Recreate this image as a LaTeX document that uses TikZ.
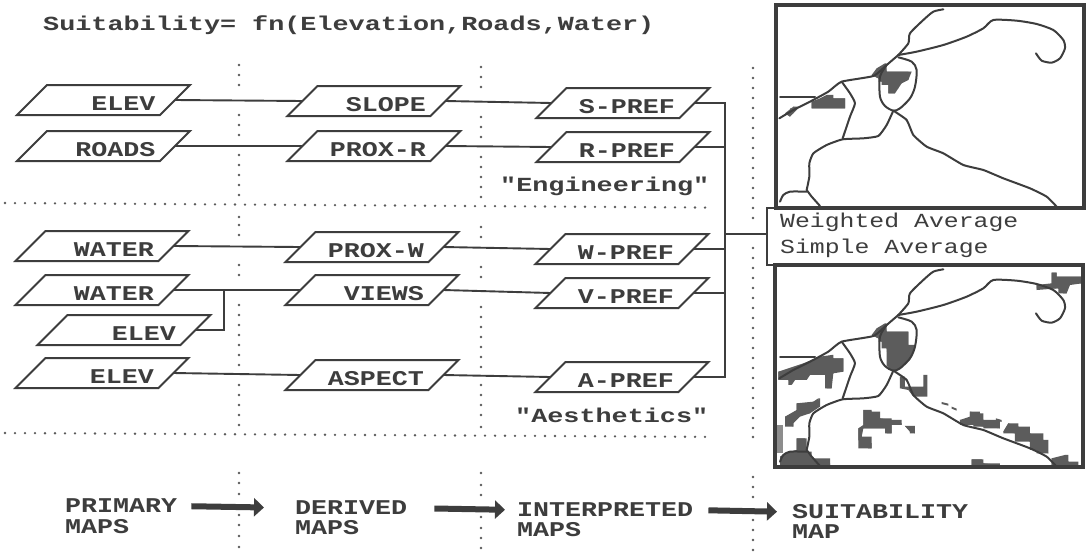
\documentclass[tikz,border=0pt]{standalone}
\usepackage{fontspec}
\usetikzlibrary{shapes.geometric,arrows.meta}
\newfontfamily\pixlab[FakeStretch=1.27]{Liberation Mono}
\newfontfamily\pixwide[FakeStretch=1.34]{Liberation Mono}
\newfontfamily\pixreg[FakeStretch=1.24]{Liberation Mono}
\definecolor{ink}{gray}{0.24}
\definecolor{blob}{gray}{0.36}
\tikzset{
  mapbox/.style={trapezium,trapezium left angle=45,trapezium right angle=135,trapezium stretches body=true,
    draw=ink,line width=2pt,minimum width=173pt,minimum height=30pt,inner sep=0pt,outer sep=0pt,
    font=\pixlab\bfseries\fontsize{21}{21}\selectfont,text=ink},
  link/.style={draw=ink,line width=1.9pt},
  heading/.style={font=\pixwide\bfseries\fontsize{20}{20}\selectfont,text=ink,inner sep=0pt,anchor=west},
  stage/.style={font=\pixlab\bfseries\fontsize{21}{21}\selectfont,text=ink,inner sep=0pt,anchor=west},
  method/.style={font=\pixreg\fontsize{20}{20}\selectfont,text=ink,inner sep=0pt,anchor=west},
  flow/.style={draw=ink,line width=6pt,-{Triangle[length=10pt,width=18pt]}},
  frame/.style={draw=ink,line width=3.4pt,minimum width=308pt,inner sep=0pt,outer sep=0pt},
  road/.style={draw=ink,line width=2pt,line join=round,line cap=round},
  dot/.style={fill=ink!85}
}
\newcommand{\lab}[1]{\rule[-15pt]{0pt}{30pt}\makebox[104pt][r]{\raisebox{-10.5pt}{#1}}}
\newcommand{\stairblob}[1]{\fill[blob] plot coordinates {#1} -- cycle; \fill[blob] plot[const plot] coordinates {#1} -- cycle;}
\newcommand{\roadnet}{%
  \draw[road] plot[smooth,tension=.4] coordinates {(520,28)(490,35)(460,60)(420,100)(415,130)(385,165)};
  \draw[road] plot[smooth,tension=.4] coordinates {(385,165)(440,155)(520,135)(590,110)(640,85)(670,60)(740,62)(800,72)(850,90)(880,120)(885,145)(870,175)(845,188)(815,182)(798,160)};
  \draw[road] plot[smooth,tension=.3] coordinates {(385,165)(350,195)(310,228)(215,245)(175,275)(120,305)(70,330)(28,355)};
  \draw[road] (30,290) -- (135,290);
  \draw[road] plot[smooth,tension=.5] coordinates {(385,172)(425,185)(440,210)(435,260)(420,295)(390,325)(370,332)(345,318)(330,290)(330,230)(350,195)};
  \draw[road] plot[smooth,tension=.3] coordinates {(215,245)(240,280)(255,310)(240,350)(218,415)};
  \draw[road] plot[smooth,tension=.3] coordinates {(370,332)(350,375)(325,408)(280,415)(218,418)(170,435)(130,460)(118,490)(118,530)(110,570)};
  \draw[road] plot[smooth,tension=.4] coordinates {(110,575)(60,575)(40,585)(30,605)};
  \draw[road] (110,570) -- (125,590) -- (150,618);
  \draw[road] plot[smooth,tension=.3] coordinates {(370,332)(410,360)(430,405)(470,440)(520,460)(580,495)(640,510)(700,535)(780,565)(830,590)(860,620)};
}
\begin{document}
\begin{tikzpicture}[x=1pt,y=-1pt]
\useasboundingbox (0,0) rectangle (1089,552);
\fill[white] (0,0) rectangle (1089,552);

% dotted guides
\foreach \y in {65,75,85,115,125,135,155,165,175,185,195,217,225,235,265,275,305,315,325,335,345,355,365,385,395,405,415,425,473,483,494,515,525,536,547}
  {\fill[dot] (239,\y) circle (1.3pt);}
\foreach \y in {67,77,87,117,127,137,157,167,177,187,197,227,237,267,277,307,317,327,337,347,357,367,385,395,405,415,427,473,485,495,517,528,538,548}
  {\fill[dot] (481,\y) circle (1.3pt);}
\foreach \y in {68,78,88,98,108,118,128,138,148,158,168,178,188,198,208,218,248,258,268,278,288,298,308,318,328,338,348,358,368,378,388,398,408,418,428,437,477,487,497,520,530,540,550}
  {\fill[dot] (753,\y) circle (1.3pt);}
\foreach \i in {0,...,70}
  {\fill[dot] ({5+10*\i},{203+\i*0.065}) circle (1.3pt);
   \fill[dot] ({5+10*\i},{433+\i*0.055}) circle (1.3pt);}

% title
\node[heading] (title) at (43,25) {Suitability= fn(Elevation,Roads,Water)};

% primary maps
\node[mapbox] (elevA)  at (103.5,100) {\lab{ELEV}};
\node[mapbox] (roads)  at (103.5,146) {\lab{ROADS}};
\node[mapbox] (waterA) at (102,246) {\lab{WATER}};
\node[mapbox] (waterB) at (102,290) {\lab{WATER}};
\node[mapbox] (elevB)  at (124,330) {\lab{ELEV}};
\node[mapbox] (elevC)  at (102,373) {\lab{ELEV}};

% derived maps
\node[mapbox] (slope)  at (374,101) {\lab{SLOPE}};
\node[mapbox] (proxr)  at (374,146) {\lab{PROX-R}};
\node[mapbox] (proxw)  at (372,247) {\lab{PROX-W}};
\node[mapbox] (views)  at (372,290) {\lab{VIEWS}};
\node[mapbox] (aspect) at (372,375) {\lab{ASPECT}};

% interpreted maps
\node[mapbox] (spref) at (623,103) {\lab{S-PREF}};
\node[mapbox] (rpref) at (623,147) {\lab{R-PREF}};
\node[mapbox] (wpref) at (622,249) {\lab{W-PREF}};
\node[mapbox] (vpref) at (622,293) {\lab{V-PREF}};
\node[mapbox] (apref) at (622,377) {\lab{A-PREF}};

\node[heading] (eng) at (500,186) {"Engineering"};
\node[heading] (aes) at (515,415) {"Aesthetics"};

% connectors
\draw[link] (elevA.east) -- (slope.west);
\draw[link] (slope.east) -- (spref.west);
\draw[link] (roads.east) -- (proxr.west);
\draw[link] (proxr.east) -- (rpref.west);
\draw[link] (waterA.east) -- (proxw.west);
\draw[link] (proxw.east) -- (wpref.west);
\draw[link] (waterB.east) -- (views.west);
\draw[link] (views.east) -- (vpref.west);
\draw[link] (elevC.east) -- (aspect.west);
\draw[link] (aspect.east) -- (apref.west);
\coordinate (viewsjoin) at (224,291);
\draw[link] (elevB.east) -| (viewsjoin);
\coordinate (bus) at (725,234);
\draw[link] (spref.east) -| (bus);
\draw[link] (rpref.east) -| (bus);
\draw[link] (wpref.east) -| (bus);
\draw[link] (vpref.east) -| (bus);
\draw[link] (apref.east) -| (bus);

% maps
\begin{scope}[shift={(770,0)},x=0.3333pt,y=-0.3333pt]
  \stairblob{(305,225)(320,205)(345,190)(350,215)(425,215)(415,240)(395,250)(385,265)(375,280)(355,280)(355,255)(335,245)(325,235)}
  \stairblob{(125,305)(150,295)(170,285)(190,295)(225,295)(225,325)(125,325)}
  \stairblob{(45,340)(70,320)(85,325)(60,350)}
  \roadnet
\end{scope}
\begin{scope}[shift={(770,260)},x=0.3333pt,y=-0.3333pt]
  \stairblob{(305,225)(320,205)(345,190)(350,215)(415,215)(415,255)(435,265)(420,300)(385,330)(355,320)(350,265)(335,245)(325,235)}
  \stairblob{(25,335)(100,310)(150,290)(185,285)(190,295)(220,295)(220,335)(190,340)(185,385)(170,385)(165,345)(120,345)(110,360)(75,360)(65,375)(55,360)(25,360)}
  \stairblob{(845,38)(860,38)(860,50)(935,50)(935,70)(900,75)(890,100)(880,100)(865,85)(800,90)(800,75)(845,70)}
  \stairblob{(80,430)(130,425)(145,415)(150,440)(120,460)(90,470)(70,490)(70,500)(45,490)(45,470)(80,450)}
  \fill[blob!70] (20,495)--(38,495)--(38,580)--(20,580)--cycle;
  \stairblob{(80,535)(105,535)(110,575)(125,595)(180,610)(180,622)(30,622)(30,590)(50,578)(80,570)}
  \stairblob{(280,450)(305,455)(330,475)(365,480)(395,490)(395,495)(365,495)(365,520)(350,520)(345,505)(280,505)(275,530)(305,550)(305,565)(295,565)(265,540)(265,505)(280,495)}
  \stairblob{(405,498)(435,500)(435,520)(420,515)}
  \fill[blob] (390,350)--(405,350)--(405,380)--(460,380)--(460,345)--(472,345)--(472,410)--(430,410)--(415,390)--(390,385)--cycle;
  \fill[blob] (515,426)--(535,431)--(535,437)--(515,432)--cycle;
  \fill[blob] (545,440)--(560,446)--(560,452)--(545,446)--cycle;
  \stairblob{(600,455)(630,460)(640,480)(690,495)(690,505)(640,500)(610,495)(570,480)(600,470)}
  \fill[blob] (678,475)--(695,480)--(695,486)--(678,481)--cycle;
  \stairblob{(715,490)(745,500)(780,520)(820,540)(835,580)(800,570)(780,545)(735,520)(700,515)}
  \stairblob{(845,595)(885,585)(895,605)(925,622)(845,622)}
  \stairblob{(605,598)(635,598)(640,610)(690,615)(690,622)(605,622)}
  \roadnet
\end{scope}
\node[frame,minimum height=203pt] (mapA) at (930,106.5) {};
\node[frame,minimum height=202pt] (mapB) at (929,366) {};

% method box
\node[inner sep=0pt,outer sep=0pt,minimum width=317pt,minimum height=57pt] (methods) at (925.5,236.5) {};
\draw[draw=ink,line width=1.8pt] (methods.north east) -- (methods.north west) -- (methods.south west) -- (methods.south east);
\node[method] (weighted) at (780,222) {Weighted Average};
\node[method] (simple) at (780,248) {Simple Average};
\draw[link] (bus) -- (bus -| methods.west);

% stages
\node[stage] (primary) at (65,506) {PRIMARY};
\node[stage] (primaryb) at (65,527) {MAPS};
\node[stage] (derived) at (295,508) {DERIVED};
\node[stage] (derivedb) at (295,528) {MAPS};
\node[stage] (interp) at (517,510) {INTERPRETED};
\node[stage] (interpb) at (517,530) {MAPS};
\node[stage] (suit) at (792,512) {SUITABILITY};
\node[stage] (suitb) at (792,532) {MAP};
\draw[flow,shorten <=14pt,shorten >=31pt] (primary.east) -- (derived.west);
\draw[flow,shorten <=27pt,shorten >=12pt] (derived.east) -- (interp.west);
\draw[flow,shorten <=15pt,shorten >=15pt] (interp.east) -- (suit.west);
\end{tikzpicture}
\end{document}
